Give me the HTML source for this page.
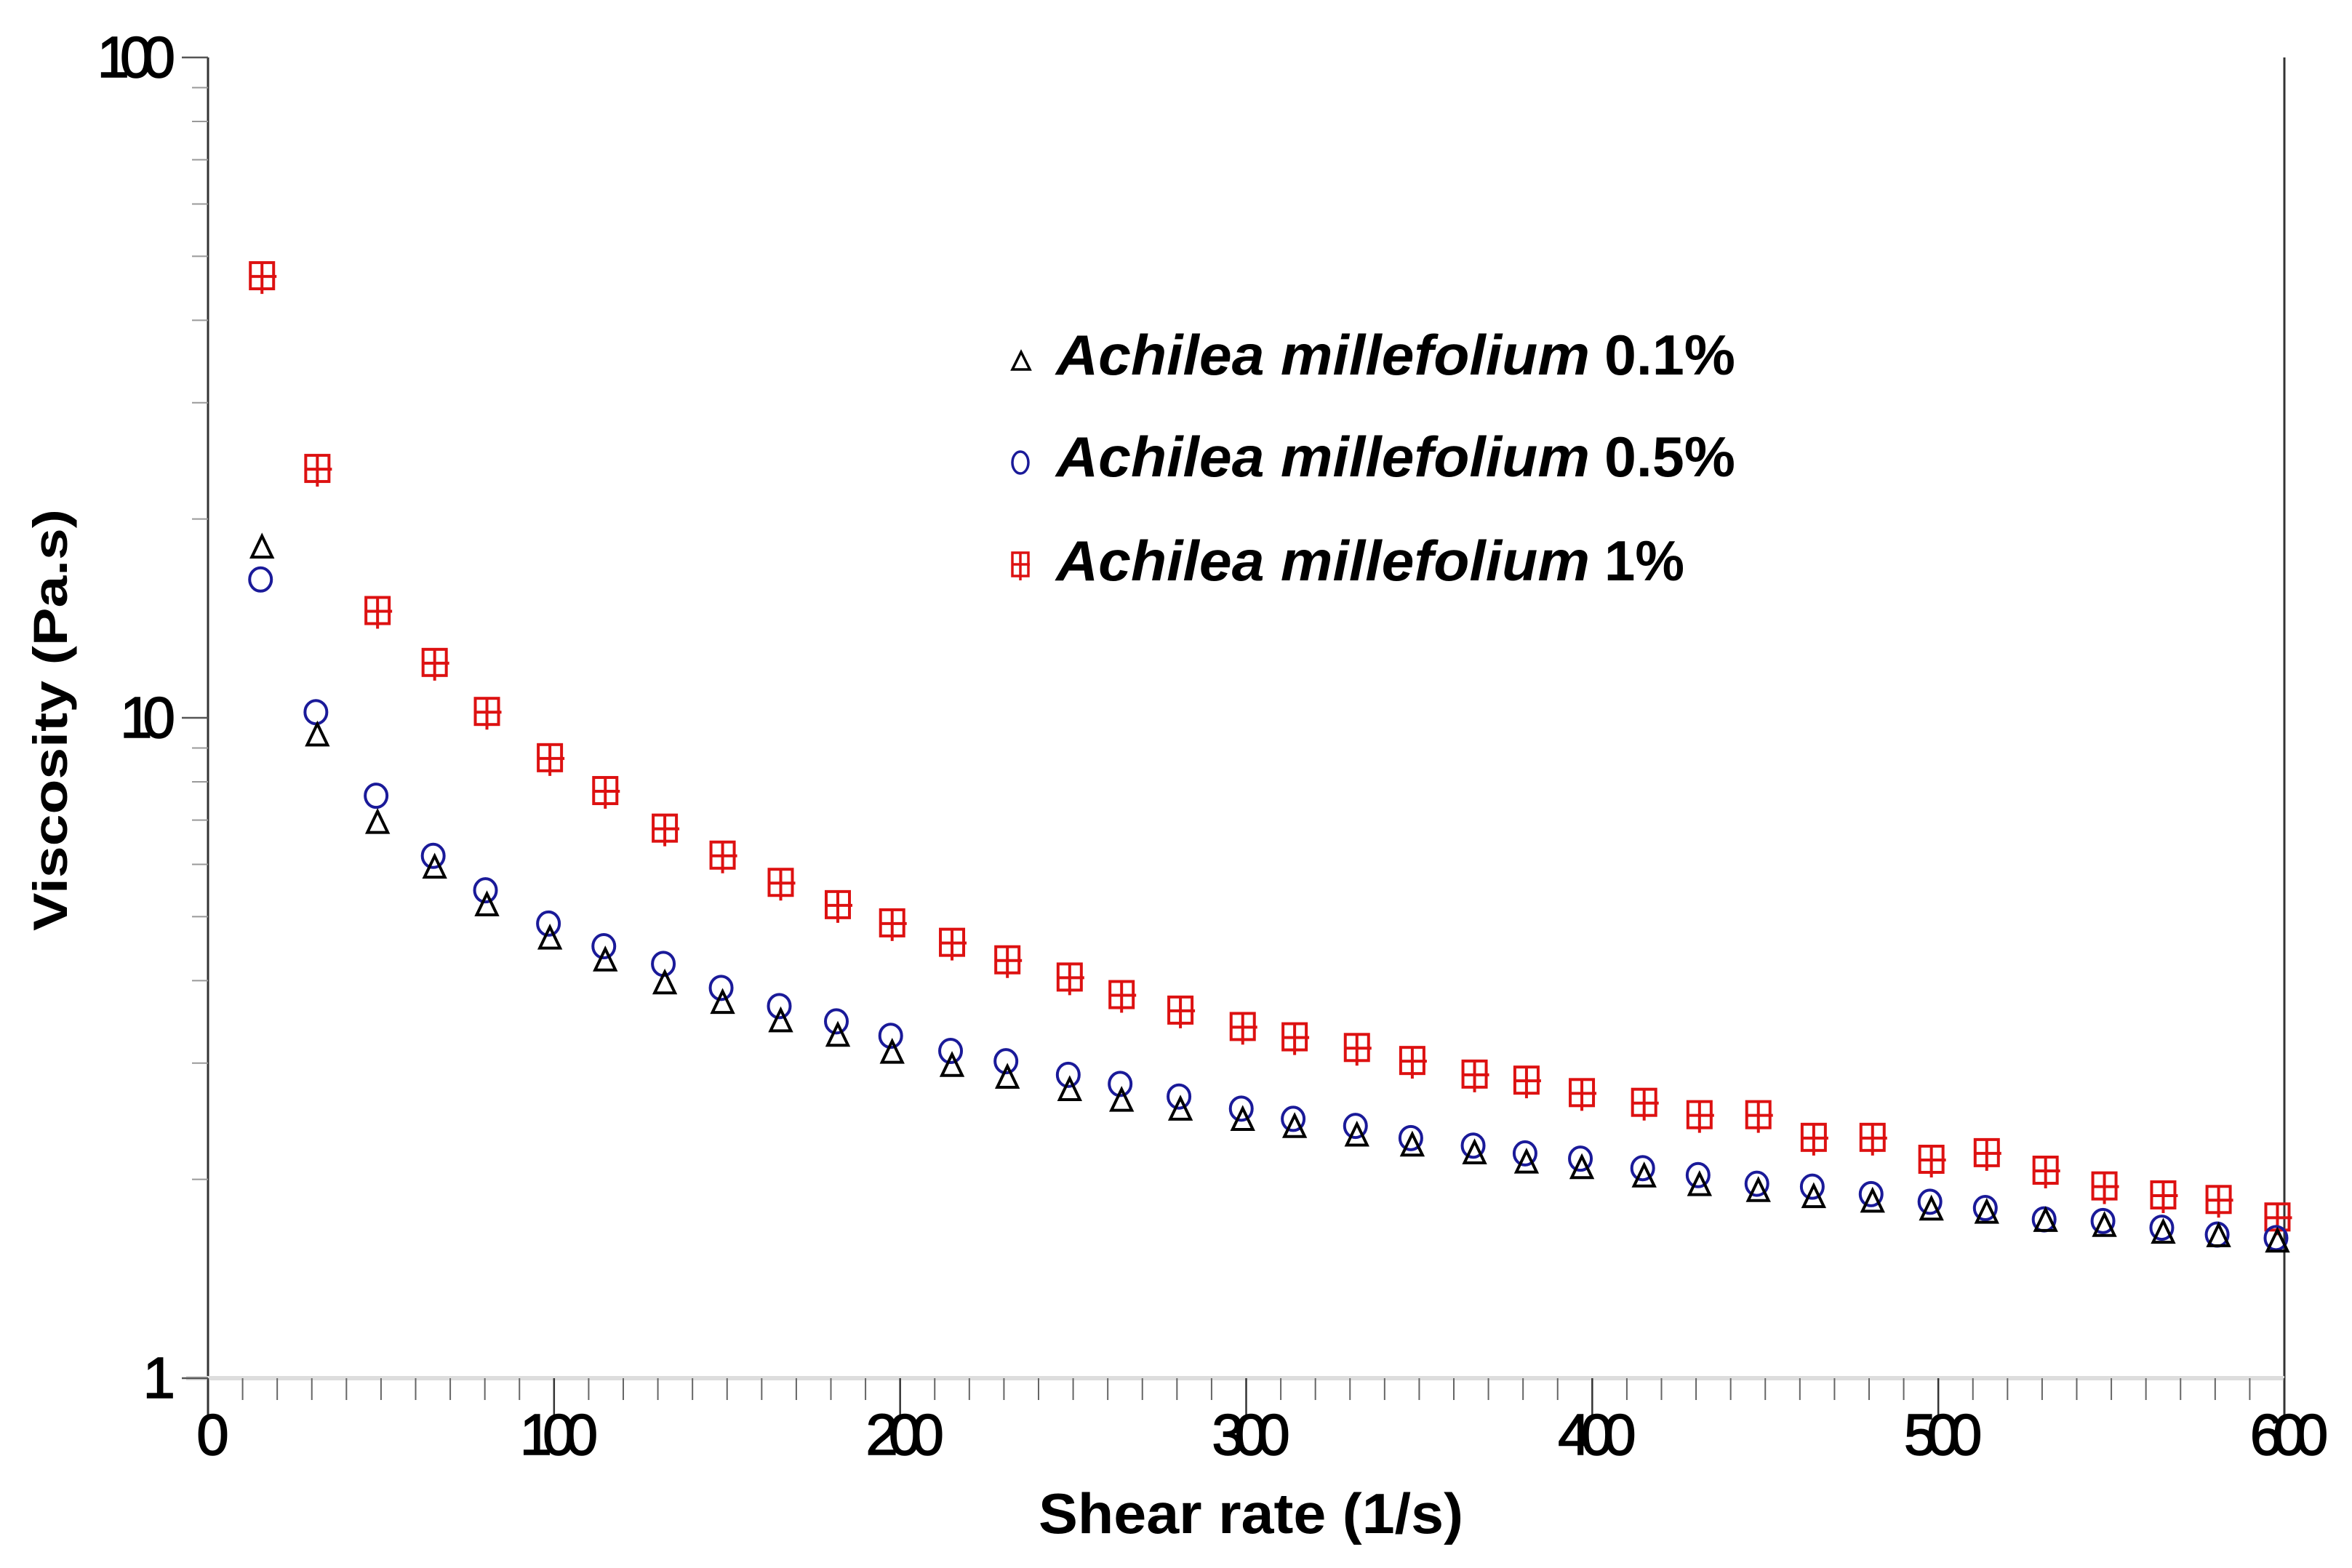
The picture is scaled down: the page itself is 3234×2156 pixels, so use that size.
<!DOCTYPE html>
<html><head><meta charset="utf-8"><style>
html,body{margin:0;padding:0;background:#fff}
svg{display:block}
</style></head><body>
<svg id="chart" width="3234" height="2156" viewBox="0 0 3234 2156" xmlns="http://www.w3.org/2000/svg">
<rect width="3234" height="2156" fill="#fff"/>
<g id="axes"></g>
<g id="marks"></g>
<text transform="translate(92,990) rotate(-90)" text-anchor="middle" font-family="Liberation Sans, sans-serif" font-weight="bold" font-size="66" textLength="580" lengthAdjust="spacingAndGlyphs">Viscosity (Pa.s)</text>
<text x="1720" y="2108" text-anchor="middle" font-family="Liberation Sans, sans-serif" font-weight="bold" font-size="78" textLength="584" lengthAdjust="spacingAndGlyphs">Shear rate (1/s)</text>
<g font-family="Liberation Sans, sans-serif" font-weight="bold" font-size="78">
  <g>
    <path d="M1392,508 L1404,484 L1416,508 Z" fill="none" stroke="#000" stroke-width="3.5"/>
    <text x="1452" y="515" font-style="italic" textLength="734" lengthAdjust="spacingAndGlyphs">Achilea millefolium</text>
    <text x="2206" y="515" textLength="180" lengthAdjust="spacingAndGlyphs">0.1%</text>
  </g>
  <g>
    <ellipse cx="1403" cy="636" rx="11" ry="15" fill="none" stroke="#1a1a99" stroke-width="3.5"/>
    <text x="1452" y="655" font-style="italic" textLength="734" lengthAdjust="spacingAndGlyphs">Achilea millefolium</text>
    <text x="2206" y="655" textLength="180" lengthAdjust="spacingAndGlyphs">0.5%</text>
  </g>
  <g>
    <g stroke="#dd1111" stroke-width="3.5" fill="none"><rect x="1392" y="760" width="22" height="32"/><line x1="1403" y1="760" x2="1403" y2="798"/><line x1="1392" y1="776" x2="1416" y2="776"/></g>
    <text x="1452" y="798" font-style="italic" textLength="734" lengthAdjust="spacingAndGlyphs">Achilea millefolium</text>
    <text x="2206" y="798" textLength="110" lengthAdjust="spacingAndGlyphs">1%</text>
  </g>
</g>
</svg>
<script>
const shearRate = [15.6,31.6,49,65.5,80.6,98.8,114.8,132,148.7,165.5,182,197.7,215,231,249,264,281,299,314,332,348,366,381,397,415,431,448,464,481,498,514,531,548,565,581,598];
const visc01 = [18.1,9.4,6.93,5.93,5.2,4.63,4.29,3.96,3.70,3.47,3.30,3.11,2.97,2.85,2.73,2.63,2.55,2.46,2.40,2.33,2.25,2.19,2.12,2.08,2.02,1.96,1.92,1.88,1.85,1.80,1.78,1.73,1.70,1.66,1.64,1.61];
const visc05 = [16.2,10.2,7.62,6.18,5.48,4.88,4.51,4.24,3.90,3.66,3.47,3.30,3.13,3.02,2.88,2.79,2.67,2.56,2.47,2.41,2.31,2.25,2.19,2.15,2.08,2.03,1.97,1.95,1.90,1.85,1.81,1.74,1.73,1.69,1.65,1.63];
const visc1 = [46.6,23.8,14.5,12.1,10.2,8.68,7.74,6.79,6.18,5.62,5.2,4.88,4.56,4.29,4.04,3.8,3.6,3.4,3.28,3.16,3.02,2.88,2.82,2.70,2.61,2.50,2.50,2.31,2.31,2.14,2.19,2.06,1.95,1.89,1.86,1.75];
const xTicks = [0,100,200,300,400,500,600];
const xTickLabels = ["0","100","200","300","400","500","600"];
const yTicks = [1,10,100];
const yTickLabels = ["1","10","100"];

const NS="http://www.w3.org/2000/svg";
const X0=286,X1=3141,Y100=79,Y1=1895;
function xs(v){return X0+(v/600)*(X1-X0);}
function ys(v){return Y1-Math.log10(v)/2*(Y1-Y100);}
function mk(tag,at,parent){const e=document.createElementNS(NS,tag);for(const k in at)e.setAttribute(k,at[k]);parent.appendChild(e);return e;}
const axes=document.getElementById('axes'), marks=document.getElementById('marks');

let l=mk('line',{x1:X0,y1:Y100,x2:X0,y2:Y1+55,stroke:'#333','stroke-width':3},axes);


l=mk('line',{x1:X1,y1:Y100,x2:X1,y2:Y1+55,stroke:'#333','stroke-width':3},axes);


l=mk('line',{x1:X0-30,y1:Y1,x2:X1,y2:Y1,stroke:'#ddd','stroke-width':6},axes);



for(let v=0;v<=600;v+=10){
  const major=v%100===0;
  const t=mk('line',{x1:xs(v),y1:Y1,x2:xs(v),y2:Y1+(major?55:30),stroke:major?'#333':'#666','stroke-width':major?2.5:2},axes);
  
  
}
xTicks.forEach((v,i)=>{
  const t=mk('text',{x:xs(v),y:2000,'text-anchor':'middle','font-family':'Liberation Sans, sans-serif','font-size':80,'letter-spacing':-13,stroke:'#000','stroke-width':1.5},axes);
  t.textContent=xTickLabels[i];
  
  
});
for(let d=0;d<2;d++){for(let m=2;m<=9;m++){
  const v=m*Math.pow(10,d);
  const t=mk('line',{x1:X0-22,y1:ys(v),x2:X0,y2:ys(v),stroke:'#999','stroke-width':2},axes);
  
  
}}
yTicks.forEach((v,i)=>{
  const t=mk('line',{x1:X0-36,y1:ys(v),x2:X0,y2:ys(v),stroke:'#555','stroke-width':2.5},axes);
  
  
  const tx=mk('text',{x:X0-58,y:ys(v)+27,'text-anchor':'end','font-family':'Liberation Sans, sans-serif','font-size':80,'letter-spacing':-13,stroke:'#000','stroke-width':1.5},axes);
  tx.textContent=yTickLabels[i];
  
  
});

visc1.forEach((v,i)=>{
  const cx=xs(shearRate[i]),cy=ys(v);
  const g=mk('g',{stroke:'#dd1111','stroke-width':4,fill:'none'},marks);
  
  
  mk('rect',{x:cx-16,y:cy-19,width:32,height:36},g);
  mk('line',{x1:cx,y1:cy-19,x2:cx,y2:cy+24},g);
  mk('line',{x1:cx-16,y1:cy,x2:cx+20,y2:cy},g);
});
visc05.forEach((v,i)=>{
  const e=mk('ellipse',{cx:xs(shearRate[i])-2,cy:ys(v),rx:15,ry:16,fill:'none',stroke:'#1a1a99','stroke-width':4},marks);
  
  
});
visc01.forEach((v,i)=>{
  const cx=xs(shearRate[i]),cy=ys(v);
  const p=mk('path',{d:`M${cx-14},${cy+13} L${cx},${cy-16} L${cx+14},${cy+13} Z`,fill:'none',stroke:'#000','stroke-width':4},marks);
  
  
});
</script>
</body></html>
